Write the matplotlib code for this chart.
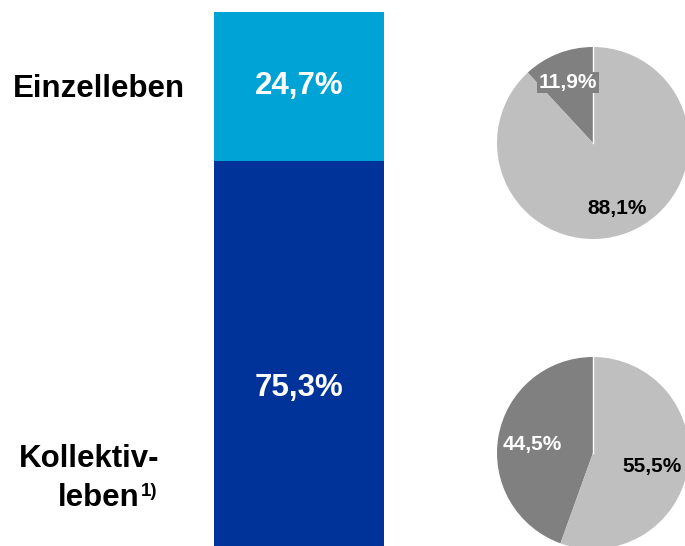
import matplotlib.pyplot as plt

plt.rcParams['font.family'] = ['Liberation Sans', 'DejaVu Sans']

# bar: share of segments
segments = ['Kollektivleben', 'Einzelleben']
shares = [75.3, 24.7]
bar_colors = ['#003399', '#00A3D6']
bar_labels = ['75,3%', '24,7%']

# pies: split within each segment (dark, light)
pie_einzel = [11.9, 88.1]
pie_einzel_labels = ['11,9%', '88,1%']
pie_kollektiv = [44.5, 55.5]
pie_kollektiv_labels = ['44,5%', '55,5%']
pie_colors = ['#808080', '#BFBFBF']

W, H = 685, 546
fig = plt.figure(figsize=(W / 100, H / 100), dpi=100)

def px_axes(x0, y0, w, h):
    # pixel box measured from the top-left corner
    return fig.add_axes([x0 / W, (H - y0 - h) / H, w / W, h / H])

# stacked bar, 6.03 px per percent, running past the bottom edge
scale = 6.03
ax = px_axes(214, 12, 170, 534)
bottom = 0
for val, col, lab in zip(shares, bar_colors, bar_labels):
    ax.bar(0, val, bottom=bottom, width=1, color=col)
    ax.text(0, bottom + val / 2, lab, ha='center', va='center', color='white',
            fontsize=22.5, fontweight='bold')
    bottom += val
ax.set_xlim(-0.5, 0.5)
ax.set_ylim(100 - 534 / scale, 100)
ax.axis('off')

# pies
def draw_pie(cx, cy, vals):
    pax = px_axes(cx - 96, cy - 96, 192, 192)
    pax.pie(vals, colors=pie_colors, startangle=90, radius=1,
            wedgeprops=dict(linewidth=0))
    # thin white line at 12 o'clock
    pax.plot([0, 0], [0, 1], color='white', linewidth=1)
    pax.set_xlim(-1, 1)
    pax.set_ylim(-1, 1)
    pax.set_aspect('equal')
    pax.axis('off')
    return pax

p1 = draw_pie(593, 143, pie_einzel)
p1.text(-0.26, 0.63, pie_einzel_labels[0], ha='center', va='center', color='white',
        fontsize=15, fontweight='bold',
        bbox=dict(facecolor=pie_colors[0], edgecolor='none', pad=1))
p1.text(0.25, -0.68, pie_einzel_labels[1], ha='center', va='center', color='black',
        fontsize=15, fontweight='bold')

p2 = draw_pie(593, 453, pie_kollektiv)
p2.text(-0.63, 0.09, pie_kollektiv_labels[0], ha='center', va='center', color='white',
        fontsize=15, fontweight='bold')
p2.text(0.61, -0.14, pie_kollektiv_labels[1], ha='center', va='center', color='black',
        fontsize=15, fontweight='bold')

# segment names
tax = fig.add_axes([0, 0, 1, 1])
tax.set_xlim(0, W)
tax.set_ylim(H, 0)
tax.axis('off')
tax.text(99, 97, 'Einzelleben', ha='center', va='baseline', fontsize=22.5, fontweight='bold')
tax.text(159, 467, 'Kollektiv-', ha='right', va='baseline', fontsize=22.5, fontweight='bold')
tax.text(140, 506, 'leben', ha='right', va='baseline', fontsize=22.5, fontweight='bold')
tax.text(141, 496, '1)', ha='left', va='baseline', fontsize=13.5, fontweight='bold')

fig.savefig('out.png', dpi=100)
